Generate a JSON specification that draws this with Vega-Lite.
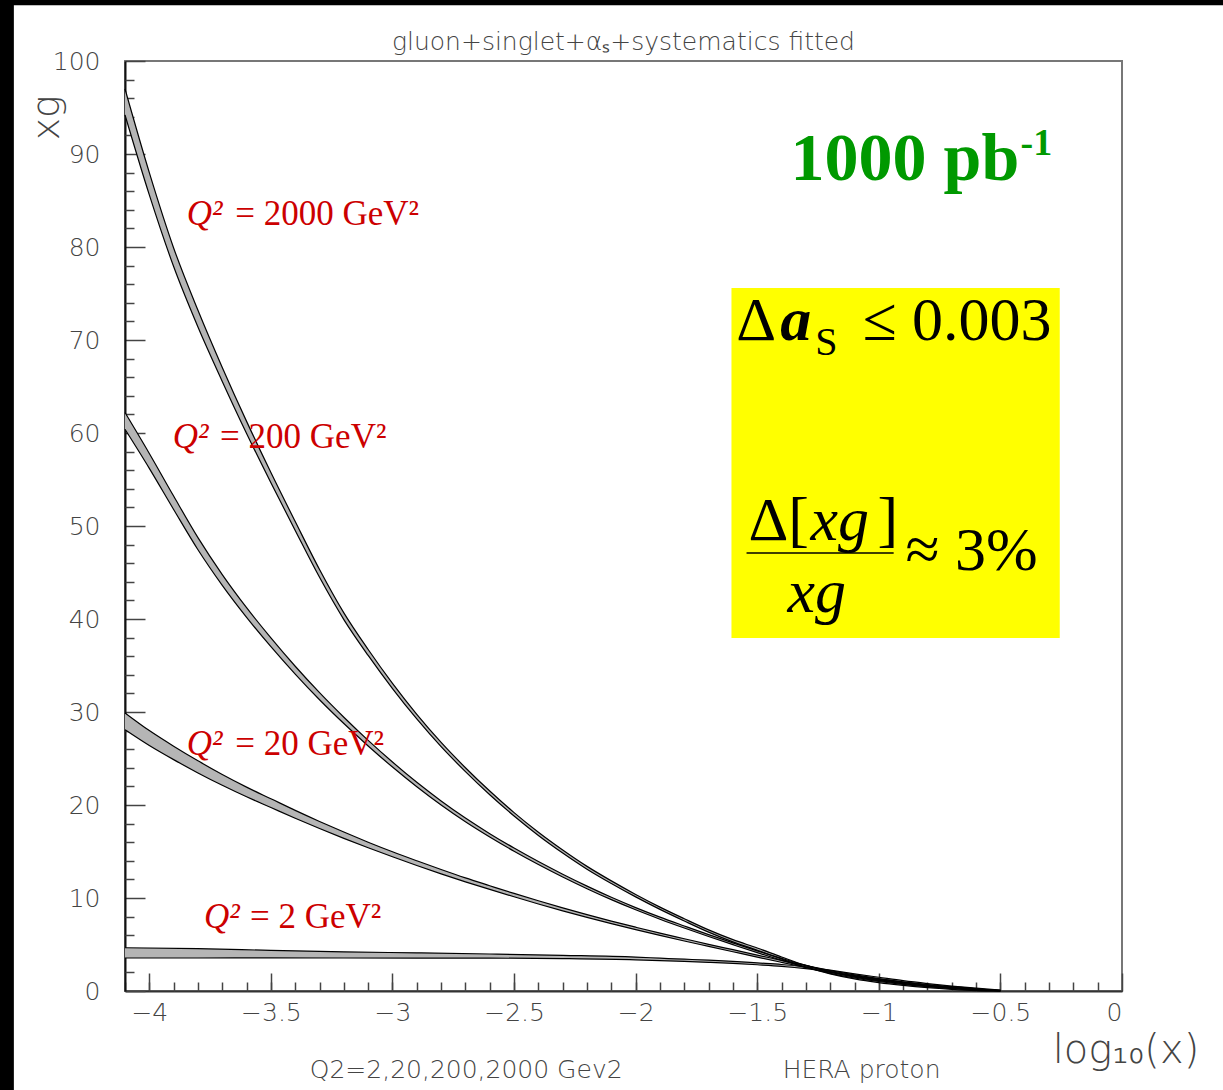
{
  "$schema": "https://vega.github.io/schema/vega-lite/v6.json",
  "width": 997,
  "height": 930,
  "autosize": {"type": "none"},
  "padding": {"left": 125, "top": 61, "right": 101, "bottom": 99},
  "background": "white",
  "config": {"view": {"stroke": "#777", "strokeWidth": 2}},
  "datasets": {
    "curves": [
      {"q": "2000", "lx": -4.1, "lo": 94.2, "hi": 97.0},
      {"q": "2000", "lx": -4.0, "lo": 85.6, "hi": 88.0},
      {"q": "2000", "lx": -3.9, "lo": 77.9, "hi": 79.9},
      {"q": "2000", "lx": -3.8, "lo": 71.4, "hi": 73.2},
      {"q": "2000", "lx": -3.7, "lo": 65.55, "hi": 67.05},
      {"q": "2000", "lx": -3.6, "lo": 59.95, "hi": 61.25},
      {"q": "2000", "lx": -3.5, "lo": 54.65, "hi": 55.75},
      {"q": "2000", "lx": -3.4, "lo": 49.52, "hi": 50.48},
      {"q": "2000", "lx": -3.3, "lo": 44.48, "hi": 45.32},
      {"q": "2000", "lx": -3.2, "lo": 39.94, "hi": 40.66},
      {"q": "2000", "lx": -3.1, "lo": 36.08, "hi": 36.72},
      {"q": "2000", "lx": -3.0, "lo": 32.52, "hi": 33.08},
      {"q": "2000", "lx": -2.9, "lo": 29.25, "hi": 29.75},
      {"q": "2000", "lx": -2.8, "lo": 26.27, "hi": 26.73},
      {"q": "2000", "lx": -2.7, "lo": 23.59, "hi": 24.01},
      {"q": "2000", "lx": -2.6, "lo": 21.1, "hi": 21.5},
      {"q": "2000", "lx": -2.5, "lo": 18.82, "hi": 19.18},
      {"q": "2000", "lx": -2.4, "lo": 16.73, "hi": 17.07},
      {"q": "2000", "lx": -2.3, "lo": 14.84, "hi": 15.16},
      {"q": "2000", "lx": -2.2, "lo": 13.1, "hi": 13.4},
      {"q": "2000", "lx": -2.1, "lo": 11.56, "hi": 11.84},
      {"q": "2000", "lx": -2.0, "lo": 10.12, "hi": 10.38},
      {"q": "2000", "lx": -1.9, "lo": 8.78, "hi": 9.02},
      {"q": "2000", "lx": -1.8, "lo": 7.53, "hi": 7.77},
      {"q": "2000", "lx": -1.7, "lo": 6.33, "hi": 6.57},
      {"q": "2000", "lx": -1.6, "lo": 5.28, "hi": 5.52},
      {"q": "2000", "lx": -1.5, "lo": 4.38, "hi": 4.62},
      {"q": "2000", "lx": -1.4, "lo": 3.44, "hi": 3.66},
      {"q": "2000", "lx": -1.3, "lo": 2.55, "hi": 2.75},
      {"q": "2000", "lx": -1.2, "lo": 1.85, "hi": 2.05},
      {"q": "2000", "lx": -1.1, "lo": 1.3, "hi": 1.5},
      {"q": "2000", "lx": -1.0, "lo": 0.9, "hi": 1.1},
      {"q": "2000", "lx": -0.9, "lo": 0.6, "hi": 0.78},
      {"q": "2000", "lx": -0.8, "lo": 0.36, "hi": 0.52},
      {"q": "2000", "lx": -0.7, "lo": 0.18, "hi": 0.32},
      {"q": "2000", "lx": -0.6, "lo": 0.05, "hi": 0.15},
      {"q": "2000", "lx": -0.5, "lo": 0.0, "hi": 0.04},
      {"q": "200", "lx": -4.1, "lo": 60.4, "hi": 62.2},
      {"q": "200", "lx": -4.0, "lo": 56.2, "hi": 57.8},
      {"q": "200", "lx": -3.9, "lo": 51.78, "hi": 53.22},
      {"q": "200", "lx": -3.8, "lo": 47.45, "hi": 48.75},
      {"q": "200", "lx": -3.7, "lo": 43.62, "hi": 44.78},
      {"q": "200", "lx": -3.6, "lo": 40.18, "hi": 41.22},
      {"q": "200", "lx": -3.5, "lo": 37.03, "hi": 37.97},
      {"q": "200", "lx": -3.4, "lo": 34.08, "hi": 34.92},
      {"q": "200", "lx": -3.3, "lo": 31.32, "hi": 32.08},
      {"q": "200", "lx": -3.2, "lo": 28.76, "hi": 29.44},
      {"q": "200", "lx": -3.1, "lo": 26.35, "hi": 26.95},
      {"q": "200", "lx": -3.0, "lo": 24.08, "hi": 24.62},
      {"q": "200", "lx": -2.9, "lo": 21.96, "hi": 22.44},
      {"q": "200", "lx": -2.8, "lo": 20.0, "hi": 20.44},
      {"q": "200", "lx": -2.7, "lo": 18.2, "hi": 18.6},
      {"q": "200", "lx": -2.6, "lo": 16.56, "hi": 16.92},
      {"q": "200", "lx": -2.5, "lo": 15.03, "hi": 15.37},
      {"q": "200", "lx": -2.4, "lo": 13.6, "hi": 13.92},
      {"q": "200", "lx": -2.3, "lo": 12.26, "hi": 12.56},
      {"q": "200", "lx": -2.2, "lo": 11.0, "hi": 11.28},
      {"q": "200", "lx": -2.1, "lo": 9.82, "hi": 10.08},
      {"q": "200", "lx": -2.0, "lo": 8.73, "hi": 8.97},
      {"q": "200", "lx": -1.9, "lo": 7.72, "hi": 7.94},
      {"q": "200", "lx": -1.8, "lo": 6.77, "hi": 6.99},
      {"q": "200", "lx": -1.7, "lo": 5.86, "hi": 6.06},
      {"q": "200", "lx": -1.6, "lo": 4.98, "hi": 5.18},
      {"q": "200", "lx": -1.5, "lo": 4.12, "hi": 4.32},
      {"q": "200", "lx": -1.4, "lo": 3.31, "hi": 3.51},
      {"q": "200", "lx": -1.3, "lo": 2.55, "hi": 2.75},
      {"q": "200", "lx": -1.2, "lo": 1.9, "hi": 2.1},
      {"q": "200", "lx": -1.1, "lo": 1.4, "hi": 1.6},
      {"q": "200", "lx": -1.0, "lo": 1.02, "hi": 1.22},
      {"q": "200", "lx": -0.9, "lo": 0.71, "hi": 0.89},
      {"q": "200", "lx": -0.8, "lo": 0.46, "hi": 0.62},
      {"q": "200", "lx": -0.7, "lo": 0.26, "hi": 0.4},
      {"q": "200", "lx": -0.6, "lo": 0.1, "hi": 0.2},
      {"q": "200", "lx": -0.5, "lo": 0.01, "hi": 0.05},
      {"q": "20", "lx": -4.1, "lo": 28.1, "hi": 29.9},
      {"q": "20", "lx": -4.0, "lo": 26.4, "hi": 28.0},
      {"q": "20", "lx": -3.9, "lo": 24.88, "hi": 26.32},
      {"q": "20", "lx": -3.8, "lo": 23.45, "hi": 24.75},
      {"q": "20", "lx": -3.7, "lo": 22.12, "hi": 23.28},
      {"q": "20", "lx": -3.6, "lo": 20.88, "hi": 21.92},
      {"q": "20", "lx": -3.5, "lo": 19.73, "hi": 20.67},
      {"q": "20", "lx": -3.4, "lo": 18.58, "hi": 19.42},
      {"q": "20", "lx": -3.3, "lo": 17.47, "hi": 18.23},
      {"q": "20", "lx": -3.2, "lo": 16.41, "hi": 17.09},
      {"q": "20", "lx": -3.1, "lo": 15.4, "hi": 16.0},
      {"q": "20", "lx": -3.0, "lo": 14.43, "hi": 14.97},
      {"q": "20", "lx": -2.9, "lo": 13.5, "hi": 14.0},
      {"q": "20", "lx": -2.8, "lo": 12.6, "hi": 13.06},
      {"q": "20", "lx": -2.7, "lo": 11.74, "hi": 12.16},
      {"q": "20", "lx": -2.6, "lo": 10.92, "hi": 11.32},
      {"q": "20", "lx": -2.5, "lo": 10.13, "hi": 10.49},
      {"q": "20", "lx": -2.4, "lo": 9.36, "hi": 9.7},
      {"q": "20", "lx": -2.3, "lo": 8.62, "hi": 8.94},
      {"q": "20", "lx": -2.2, "lo": 7.92, "hi": 8.22},
      {"q": "20", "lx": -2.1, "lo": 7.24, "hi": 7.52},
      {"q": "20", "lx": -2.0, "lo": 6.6, "hi": 6.86},
      {"q": "20", "lx": -1.9, "lo": 5.98, "hi": 6.22},
      {"q": "20", "lx": -1.8, "lo": 5.38, "hi": 5.62},
      {"q": "20", "lx": -1.7, "lo": 4.8, "hi": 5.02},
      {"q": "20", "lx": -1.6, "lo": 4.22, "hi": 4.44},
      {"q": "20", "lx": -1.5, "lo": 3.64, "hi": 3.86},
      {"q": "20", "lx": -1.4, "lo": 3.08, "hi": 3.3},
      {"q": "20", "lx": -1.3, "lo": 2.53, "hi": 2.73},
      {"q": "20", "lx": -1.2, "lo": 2.0, "hi": 2.2},
      {"q": "20", "lx": -1.1, "lo": 1.54, "hi": 1.74},
      {"q": "20", "lx": -1.0, "lo": 1.14, "hi": 1.34},
      {"q": "20", "lx": -0.9, "lo": 0.81, "hi": 0.99},
      {"q": "20", "lx": -0.8, "lo": 0.54, "hi": 0.7},
      {"q": "20", "lx": -0.7, "lo": 0.32, "hi": 0.46},
      {"q": "20", "lx": -0.6, "lo": 0.14, "hi": 0.24},
      {"q": "20", "lx": -0.5, "lo": 0.01, "hi": 0.07},
      {"q": "2", "lx": -4.1, "lo": 3.55, "hi": 4.65},
      {"q": "2", "lx": -3.8, "lo": 3.55, "hi": 4.55},
      {"q": "2", "lx": -3.5, "lo": 3.57, "hi": 4.37},
      {"q": "2", "lx": -3.2, "lo": 3.55, "hi": 4.21},
      {"q": "2", "lx": -2.9, "lo": 3.54, "hi": 4.1},
      {"q": "2", "lx": -2.6, "lo": 3.54, "hi": 3.98},
      {"q": "2", "lx": -2.3, "lo": 3.48, "hi": 3.84},
      {"q": "2", "lx": -2.0, "lo": 3.35, "hi": 3.65},
      {"q": "2", "lx": -1.9, "lo": 3.27, "hi": 3.53},
      {"q": "2", "lx": -1.8, "lo": 3.18, "hi": 3.42},
      {"q": "2", "lx": -1.7, "lo": 3.08, "hi": 3.32},
      {"q": "2", "lx": -1.6, "lo": 2.97, "hi": 3.19},
      {"q": "2", "lx": -1.5, "lo": 2.82, "hi": 3.02},
      {"q": "2", "lx": -1.4, "lo": 2.65, "hi": 2.85},
      {"q": "2", "lx": -1.3, "lo": 2.4, "hi": 2.6},
      {"q": "2", "lx": -1.2, "lo": 2.05, "hi": 2.25},
      {"q": "2", "lx": -1.1, "lo": 1.65, "hi": 1.85},
      {"q": "2", "lx": -1.0, "lo": 1.28, "hi": 1.48},
      {"q": "2", "lx": -0.9, "lo": 0.93, "hi": 1.11},
      {"q": "2", "lx": -0.8, "lo": 0.64, "hi": 0.8},
      {"q": "2", "lx": -0.7, "lo": 0.39, "hi": 0.53},
      {"q": "2", "lx": -0.6, "lo": 0.18, "hi": 0.3},
      {"q": "2", "lx": -0.5, "lo": 0.03, "hi": 0.09}
    ]
  },
  "encoding": {
    "x": {"field": "lx", "type": "quantitative", "scale": {"domain": [-4.1, 0], "nice": false, "zero": false}, "axis": null},
    "y": {"field": "y", "type": "quantitative", "scale": {"domain": [0, 100], "nice": false, "zero": false}, "axis": null}
  },
  "resolve": {"axis": {"x": "independent", "y": "independent"}},
  "layer": [
    {
      "data": {"values": [
        {"lx": -4.62, "lx2": -4.557, "y": -12, "y2": 107},
        {"lx": -4.62, "lx2": 0.5, "y": 106.0, "y2": 107}
      ]},
      "mark": {"type": "rect", "color": "black"},
      "encoding": {
        "x2": {"field": "lx2"},
        "y2": {"field": "y2"}
      }
    },
    {
      "data": {"values": [{"lx": -1.606, "lx2": -0.256, "y": 37.96, "y2": 75.6}]},
      "mark": {"type": "rect", "color": "#ffff00"},
      "encoding": {
        "x2": {"field": "lx2"},
        "y2": {"field": "y2"}
      }
    },
    {
      "data": {"name": "curves"},
      "mark": {"type": "area", "color": "#b5b5b5", "opacity": 1, "interpolate": "monotone"},
      "encoding": {
        "x": {"field": "lx", "type": "quantitative", "scale": {"domain": [-4.1, 0], "nice": false, "zero": false},
          "axis": {"orient": "bottom", "values": [-4, -3.5, -3, -2.5, -2, -1.5, -1, -0.5, 0], "format": "~g", "title": null, "grid": false,
            "tickSize": -18, "tickColor": "#444", "tickWidth": 1.5, "domainColor": "#333", "domainWidth": 2,
            "labelFont": "DejaVu Sans", "labelFontWeight": 200, "labelFontSize": 25, "labelColor": "#444", "labelPadding": 27}},
        "y": {"field": "lo", "type": "quantitative", "scale": {"domain": [0, 100], "nice": false, "zero": false},
          "axis": {"orient": "left", "values": [0, 10, 20, 30, 40, 50, 60, 70, 80, 90, 100], "title": null, "grid": false,
            "tickSize": -20, "tickColor": "#444", "tickWidth": 1.5, "domainColor": "#111", "domainWidth": 2,
            "labelFont": "DejaVu Sans", "labelFontWeight": 200, "labelFontSize": 25, "labelColor": "#444", "labelPadding": 45}},
        "y2": {"field": "hi"},
        "detail": {"field": "q"}
      }
    },
    {
      "data": {"name": "curves"},
      "mark": {"type": "line", "color": "black", "strokeWidth": 1.2, "interpolate": "monotone"},
      "encoding": {
        "x": {"field": "lx", "type": "quantitative", "scale": {"domain": [-4.1, 0], "nice": false, "zero": false},
          "axis": {"orient": "bottom", "values": [-4.1, -4, -3.9, -3.8, -3.7, -3.6, -3.5, -3.4, -3.3, -3.2, -3.1, -3, -2.9, -2.8, -2.7, -2.6, -2.5, -2.4, -2.3, -2.2, -2.1, -2, -1.9, -1.8, -1.7, -1.6, -1.5, -1.4, -1.3, -1.2, -1.1, -1, -0.9, -0.8, -0.7, -0.6, -0.5, -0.4, -0.3, -0.2, -0.1],
            "labels": false, "domain": false, "title": null, "grid": false, "tickSize": -9, "tickColor": "#444", "tickWidth": 1.5}},
        "y": {"field": "lo", "type": "quantitative", "scale": {"domain": [0, 100], "nice": false, "zero": false},
          "axis": {"orient": "left", "values": [2, 4, 6, 8, 12, 14, 16, 18, 22, 24, 26, 28, 32, 34, 36, 38, 42, 44, 46, 48, 52, 54, 56, 58, 62, 64, 66, 68, 72, 74, 76, 78, 82, 84, 86, 88, 92, 94, 96, 98],
            "labels": false, "domain": false, "title": null, "grid": false, "tickSize": -9, "tickColor": "#444", "tickWidth": 1.5}},
        "detail": {"field": "q"}
      }
    },
    {
      "data": {"name": "curves"},
      "mark": {"type": "line", "color": "black", "strokeWidth": 1.2, "interpolate": "monotone"},
      "encoding": {
        "y": {"field": "hi", "type": "quantitative", "scale": {"domain": [0, 100], "nice": false, "zero": false}, "axis": null},
        "detail": {"field": "q"}
      }
    },
    {
      "data": {"values": [{"lx": -1.544, "lx2": -0.939, "y": 47.1}]},
      "mark": {"type": "rule", "color": "black", "strokeWidth": 1.5},
      "encoding": {"x2": {"field": "lx2"}}
    },
    {
      "data": {"values": [
        {"lx": -3.846, "y": 82.37, "t": "Q²"},
        {"lx": -3.904, "y": 58.35, "t": "Q²"},
        {"lx": -3.846, "y": 25.38, "t": "Q²"},
        {"lx": -3.775, "y": 6.74, "t": "Q²"}
      ]},
      "mark": {"type": "text", "font": "Liberation Serif", "fontStyle": "italic", "fontSize": 35, "color": "#cc0000", "align": "left", "baseline": "alphabetic"},
      "encoding": {"text": {"field": "t"}}
    },
    {
      "data": {"values": [
        {"lx": -3.647, "y": 82.37, "t": "= 2000 GeV²"},
        {"lx": -3.709, "y": 58.35, "t": "= 200 GeV²"},
        {"lx": -3.647, "y": 25.38, "t": "= 20 GeV²"},
        {"lx": -3.586, "y": 6.74, "t": "= 2 GeV²"}
      ]},
      "mark": {"type": "text", "font": "Liberation Serif", "fontSize": 35, "color": "#cc0000", "align": "left", "baseline": "alphabetic"},
      "encoding": {"text": {"field": "t"}}
    },
    {
      "data": {"values": [{"lx": -1.363, "y": 87.2, "t": "1000 pb"}]},
      "mark": {"type": "text", "font": "Liberation Serif", "fontWeight": "bold", "fontSize": 68, "color": "#009900", "align": "left", "baseline": "alphabetic"},
      "encoding": {"text": {"field": "t"}}
    },
    {
      "data": {"values": [{"lx": -0.417, "y": 89.9, "t": "-1"}]},
      "mark": {"type": "text", "font": "Liberation Serif", "fontWeight": "bold", "fontSize": 38, "color": "#009900", "align": "left", "baseline": "alphabetic"},
      "encoding": {"text": {"field": "t"}}
    },
    {
      "data": {"values": [
        {"lx": -1.586, "y": 70.0, "t": "Δ"},
        {"lx": -1.067, "y": 70.0, "t": "≤ 0.003"},
        {"lx": -1.536, "y": 48.5, "t": "Δ["},
        {"lx": -1.005, "y": 48.5, "t": "]"},
        {"lx": -0.89, "y": 45.3, "t": "≈ 3%"}
      ]},
      "mark": {"type": "text", "font": "Liberation Serif", "fontSize": 62, "color": "black", "align": "left", "baseline": "alphabetic"},
      "encoding": {"text": {"field": "t"}}
    },
    {
      "data": {"values": [
        {"lx": -1.281, "y": 48.5, "t": "xg"},
        {"lx": -1.376, "y": 40.75, "t": "xg"}
      ]},
      "mark": {"type": "text", "font": "Liberation Serif", "fontStyle": "italic", "fontSize": 62, "color": "black", "align": "left", "baseline": "alphabetic"},
      "encoding": {"text": {"field": "t"}}
    },
    {
      "data": {"values": [{"lx": -1.405, "y": 70.0, "t": "a"}]},
      "mark": {"type": "text", "font": "Liberation Serif", "fontWeight": "bold", "fontStyle": "italic", "fontSize": 62, "color": "black", "align": "left", "baseline": "alphabetic"},
      "encoding": {"text": {"field": "t"}}
    },
    {
      "data": {"values": [{"lx": -1.261, "y": 68.4, "t": "S"}]},
      "mark": {"type": "text", "font": "Liberation Serif", "fontSize": 40, "color": "black", "align": "left", "baseline": "alphabetic"},
      "encoding": {"text": {"field": "t"}}
    },
    {
      "data": {"values": [
        {"lx": -2.05, "y": 101.2, "t": "gluon+singlet+αₛ+systematics fitted"},
        {"lx": -2.697, "y": -9.35, "t": "Q2=2,20,200,2000 Gev2"},
        {"lx": -1.071, "y": -9.35, "t": "HERA proton"}
      ]},
      "mark": {"type": "text", "font": "DejaVu Sans", "fontWeight": 200, "fontSize": 25, "color": "#444", "align": "center", "baseline": "alphabetic"},
      "encoding": {"text": {"field": "t"}}
    },
    {
      "data": {"values": [{"lx": -0.285, "y": -7.7, "t": "log₁₀(x)"}]},
      "mark": {"type": "text", "font": "DejaVu Sans", "fontWeight": 200, "fontSize": 40, "color": "#444", "align": "left", "baseline": "alphabetic"},
      "encoding": {"text": {"field": "t"}}
    },
    {
      "data": {"values": [{"lx": -4.417, "y": 93.9, "t": "xg"}]},
      "mark": {"type": "text", "font": "DejaVu Sans", "fontWeight": 200, "fontSize": 38, "color": "#444", "align": "center", "baseline": "middle", "angle": 270},
      "encoding": {"text": {"field": "t"}}
    }
  ]
}
